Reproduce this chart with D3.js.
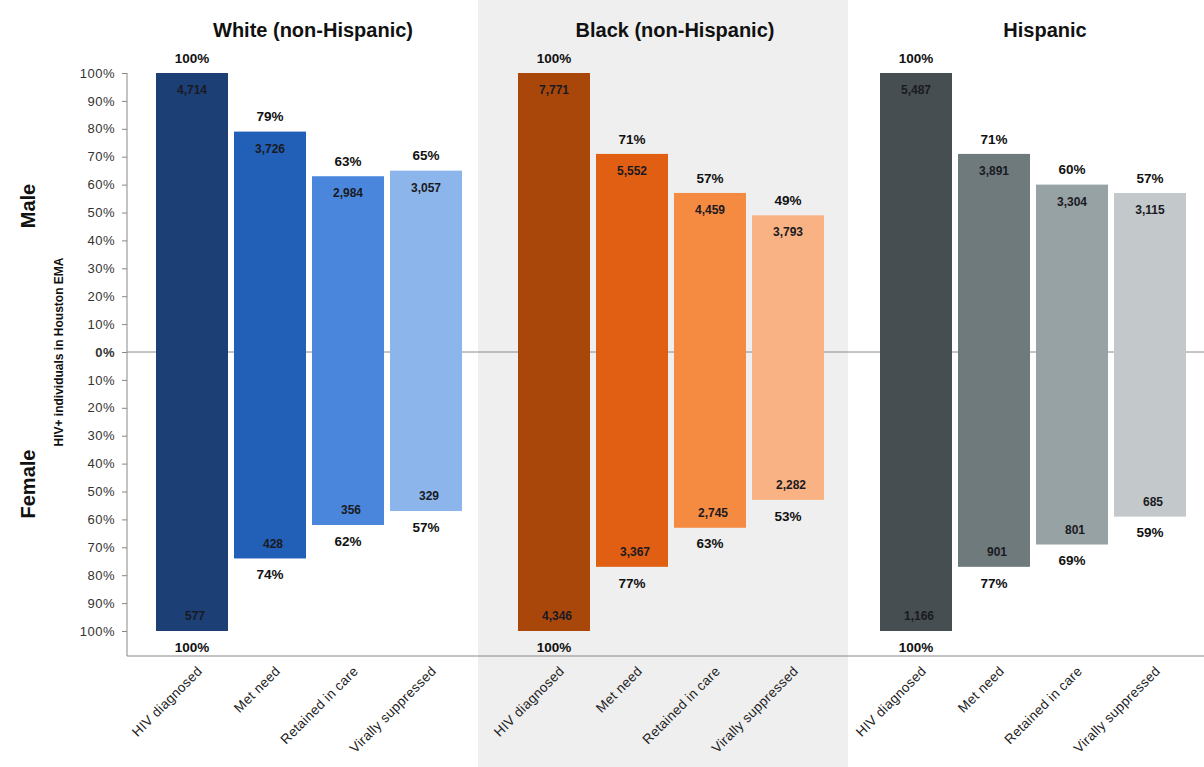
<!DOCTYPE html>
<html><head><meta charset="utf-8">
<script src="https://cdn.jsdelivr.net/npm/d3@7"></script>
<style>body{margin:0;background:#fff}svg{display:block;font-family:Arial,"Liberation Sans",sans-serif}</style>
</head><body><svg id="c" width="1204" height="767"></svg>
<script>
const groups = ["White (non-Hispanic)", "Black (non-Hispanic)", "Hispanic"];
const stages = ["HIV diagnosed", "Met need", "Retained in care", "Virally suppressed"];
const malePct = [[100, 79, 63, 65], [100, 71, 57, 49], [100, 71, 60, 57]];
const femalePct = [[100, 74, 62, 57], [100, 77, 63, 53], [100, 77, 69, 59]];
const maleCount = [["4,714", "3,726", "2,984", "3,057"], ["7,771", "5,552", "4,459", "3,793"], ["5,487", "3,891", "3,304", "3,115"]];
const femaleCount = [["577", "428", "356", "329"], ["4,346", "3,367", "2,745", "2,282"], ["1,166", "901", "801", "685"]];
const yTicks = [-100, -90, -80, -70, -60, -50, -40, -30, -20, -10, 0, 10, 20, 30, 40, 50, 60, 70, 80, 90, 100];
const colors = [["#1c3f76", "#2160b6", "#4a87dc", "#8cb5eb"], ["#a9470b", "#e15f12", "#f58a41", "#f8b283"], ["#464e51", "#6e7a7c", "#97a2a4", "#c3c8ca"]];

const svg = d3.select("#c");
const axisX = 127, right = 1204, bottomY = 656;
const y = d3.scaleLinear().domain([-100, 100]).range([631, 73]);
const gx = d3.scaleBand().domain(groups).range([axisX, axisX + 362 * 3]);
const sx = d3.scaleBand().domain(stages).range([29, 335]).paddingInner(0.077).paddingOuter(0);

// shaded panel behind Black group
const bg = gx(groups[1]);
svg.append("rect").attr("x", bg + sx(stages[0]) - 40).attr("y", 0)
  .attr("width", sx(stages[3]) + sx.bandwidth() - sx(stages[0]) + 64).attr("height", 767)
  .attr("fill", "#efefef");

// axis frame
svg.append("line").attr("x1", axisX).attr("x2", axisX).attr("y1", y(100)).attr("y2", bottomY).attr("stroke", "#888");
svg.append("line").attr("x1", axisX).attr("x2", right).attr("y1", bottomY).attr("y2", bottomY).attr("stroke", "#888");

const yAxis = svg.append("g").attr("transform", `translate(${axisX},0)`)
  .call(d3.axisLeft(y).tickValues(yTicks).tickSize(5).tickSizeOuter(0).tickFormat(d => Math.abs(d) + "%"));
yAxis.select(".domain").remove();
yAxis.selectAll(".tick line").attr("stroke", "#888");
yAxis.selectAll(".tick text").attr("font-size", 13).attr("fill", "#333").attr("x", -12)
  .attr("font-weight", d => d === 0 ? "bold" : "normal").attr("letter-spacing", "0.5px");

// zero line
svg.append("line").attr("x1", axisX).attr("x2", right).attr("y1", y(0)).attr("y2", y(0)).attr("stroke", "#8a8a8a");

groups.forEach((g, gi) => {
  const g0 = gx(g);
  svg.append("text").attr("x", g0 + sx(stages[0]) + (sx(stages[3]) + sx.bandwidth() - sx(stages[0])) / 2 + (gi === 2 ? 12 : 4))
    .attr("y", 37).attr("text-anchor", "middle").attr("font-size", 20).attr("font-weight", "bold").attr("fill", "#111").text(g);
  stages.forEach((s, si) => {
    const x0 = g0 + sx(s), w = sx.bandwidth(), cx = x0 + w / 2;
    const mp = malePct[gi][si], fp = femalePct[gi][si];
    svg.append("rect").attr("x", x0).attr("y", y(mp)).attr("width", w).attr("height", y(0) - y(mp)).attr("fill", colors[gi][si]);
    svg.append("rect").attr("x", x0).attr("y", y(0)).attr("width", w).attr("height", y(-fp) - y(0)).attr("fill", colors[gi][si]);
    svg.append("text").attr("x", cx).attr("y", y(mp) - 15).attr("dy", "0.35em").attr("text-anchor", "middle")
      .attr("font-size", 13.5).attr("font-weight", "bold").attr("fill", "#111").text(mp + "%");
    svg.append("text").attr("x", cx).attr("y", y(-fp) + 16).attr("dy", "0.35em").attr("text-anchor", "middle")
      .attr("font-size", 13.5).attr("font-weight", "bold").attr("fill", "#111").text(fp + "%");
    svg.append("text").attr("x", cx).attr("y", y(mp) + 17).attr("dy", "0.35em").attr("text-anchor", "middle")
      .attr("font-size", 12).attr("font-weight", "bold").attr("fill", "#1a1a22").text(maleCount[gi][si]);
    svg.append("text").attr("x", cx + 3).attr("y", y(-fp) - 15).attr("dy", "0.35em").attr("text-anchor", "middle")
      .attr("font-size", 12).attr("font-weight", "bold").attr("fill", "#1a1a22").text(femaleCount[gi][si]);
    svg.append("text").attr("transform", `translate(${cx + 11},${672}) rotate(-45)`)
      .attr("text-anchor", "end").attr("font-size", 13.5).attr("letter-spacing", "0.3px").attr("fill", "#222").text(s);
  });
});

// axis titles
svg.append("text").attr("transform", `translate(63,${y(0)}) rotate(-90)`).attr("text-anchor", "middle")
  .attr("font-size", 12).attr("font-weight", "bold").attr("fill", "#111").text("HIV+ individuals in Houston EMA");
svg.append("text").attr("transform", `translate(35,206) rotate(-90)`).attr("text-anchor", "middle")
  .attr("font-size", 20).attr("font-weight", "bold").attr("fill", "#111").text("Male");
svg.append("text").attr("transform", `translate(35,484) rotate(-90)`).attr("text-anchor", "middle")
  .attr("font-size", 20).attr("font-weight", "bold").attr("fill", "#111").text("Female");
</script></body></html>
